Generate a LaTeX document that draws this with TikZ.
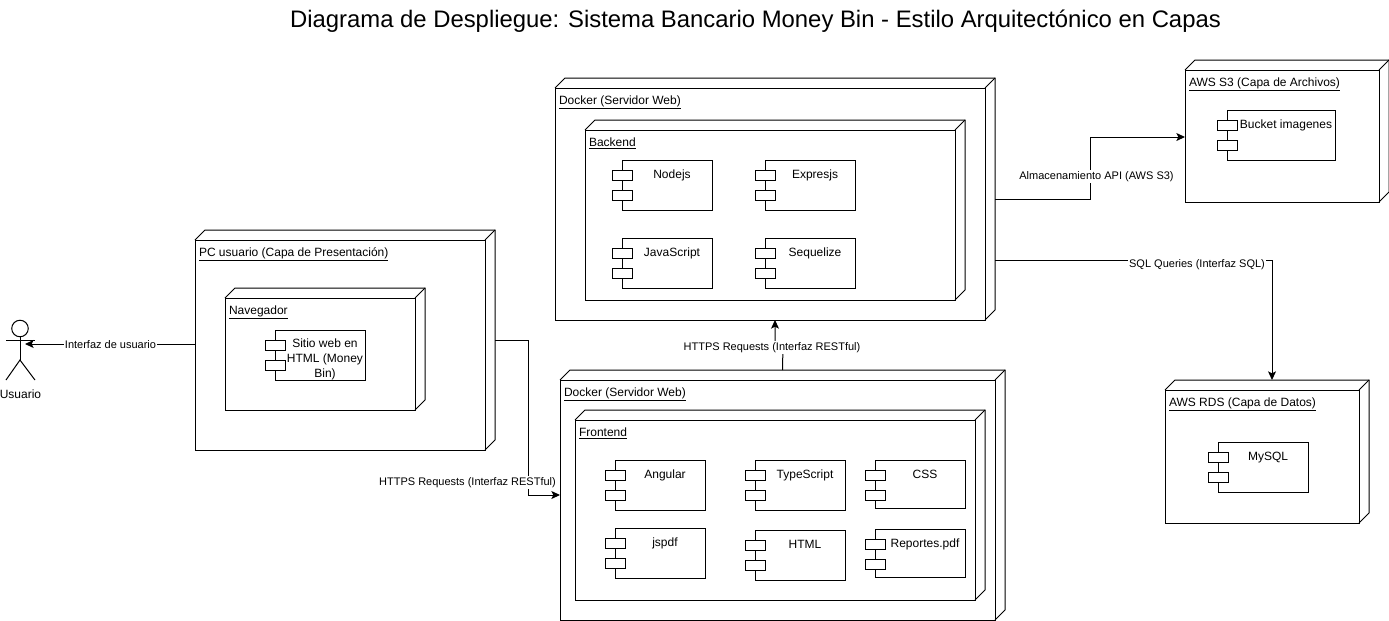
\documentclass[tikz,border=0pt]{standalone}
\usepackage{fontspec}
\setmainfont{Liberation Sans}
\usetikzlibrary{positioning, arrows.meta, calc}

\begin{document}
\begin{tikzpicture}[x=0.75pt, y=-0.75pt, line width=0.75pt, every node/.style={font=\fontsize{9}{10.9}\selectfont}]
  \tikzset{
    deploybox/.style={anchor=north west, inner sep=0pt, outer sep=0pt},
    boxcaption/.style={anchor=base west, inner sep=0pt},
    compbox/.style={draw, anchor=north west, inner sep=0pt, outer sep=0pt},
    comptext/.style={anchor=base, inner sep=0pt, align=center},
    comptab/.style={draw, fill=white},
    flow/.style={-{Stealth[length=6.5pt, width=6pt, inset=1.5pt]}},
    flowtext/.style={fill=white, inner sep=1pt, font=\fontsize{8.25}{10}\selectfont},
  }
  \useasboundingbox (0,0) rectangle (1389,621);

  \node[inner sep=0pt, font=\fontsize{17.9}{20}\selectfont] (title) at (755.5,21.5)
    {Diagrama de Despliegue: Sistema Bancario Money Bin - Estilo Arquitectónico en Capas};

  %% ===== Deployment boxes: front face, top and side =====
  \foreach \n/\x/\y/\w/\h/\t in {
      pc/195/230/300/220/{PC usuario (Capa de Presentación)},
      navegador/225/288/200/122/{Navegador},
      dockerback/555/78/440/242/{Docker (Servidor Web)},
      backend/585/120/380/180/{Backend},
      dockerfront/560/370/445/250/{Docker (Servidor Web)},
      frontend/575/410/410/190/{Frontend},
      awss/1185/60/204/142/{AWS S3 (Capa de Archivos)},
      awsrds/1165/380/204/143/{AWS RDS (Capa de Datos)}} {
    \node[deploybox, minimum width=\w*0.75pt, minimum height=\h*0.75pt] (\n) at (\x,\y) {};
    \draw (\n.south west) rectangle ($(\n.north east)+(-10,10)$);
    \draw ($(\n.north west)+(0,10)$) -- ($(\n.north west)+(10,0)$) -- (\n.north east)
      -- ($(\n.south east)+(0,-10)$) -- ($(\n.south east)+(-10,0)$);
    \draw ($(\n.north east)+(-10,10)$) -- (\n.north east);
    \node[boxcaption] (\n-caption) at ($(\n.north west)+(3.5,26)$) {\underline{\t}};
  }

  %% ===== Components: body, two tabs, text =====
  \foreach \n/\x/\y/\w/\h/\b/\t in {
      sitioweb/275/330/90/50/47/{Sitio web en\\HTML (Money\\Bin)},
      nodejs/622/160/90/50/18/{Nodejs},
      expresjs/765/160/90/50/18/{Expresjs},
      javascript/622/238/90/50/18/{JavaScript},
      sequelize/765/238/90/50/18/{Sequelize},
      angular/615/460/90/50/18/{Angular},
      typescript/755/460/90/50/18/{TypeScript},
      css/875/460/90/48/18/{CSS},
      jspdf/615/528/90/50/18/{jspdf},
      html/755/530/90/50/18/{HTML},
      reportes/875/529/90/48/18/{Reportes.pdf},
      bucket/1227/110/108/50/18/{Bucket imagenes},
      mysql/1218/442/90/50/18/{MySQL}} {
    \node[compbox, minimum width=\w*0.75pt, minimum height=\h*0.75pt] (\n) at (\x,\y) {};
    \draw[comptab] ($(\n.north west)+(-10,10)$) rectangle +(20,10);
    \draw[comptab] ($(\n.north west)+(-10,30)$) rectangle +(20,10);
    \node[comptext] (\n-text) at ($(\n.north)+(5,\b)$) {\t};
  }

  %% ===== Actor =====
  \node[draw, circle, inner sep=0pt, minimum size=12.4pt] (userhead) at (20,328.5) {};
  \coordinate (userhip) at (20,360);
  \coordinate (userhand) at (25,344);
  \draw (userhead.south) -- (userhip);
  \draw (6,340) -- (35,340);
  \draw (6,380) -- (userhip) -- (35,380);
  \node[inner sep=0pt] (username) at (20.5,394) {Usuario};

  %% ===== Connectors =====
  \coordinate (s3port) at (1185,137);
  \coordinate (sqlbend) at (1272,260);
  \draw[flow] (pc.west |- userhand) -- (userhand);
  \draw[flow] (pc.east) -- (528,340) -- (528,495) -- (dockerfront.west);
  \draw[flow] (dockerfront.north) -- (783,345) -- (775,345) -- (dockerback.south);
  \draw[flow] (dockerback.east) -- (1090.5,199) -- (1090.5,137) -- (s3port);
  \draw[flow] (dockerback.east |- sqlbend) -- (sqlbend) -- (awsrds.north -| sqlbend);

  \node[flowtext] (usertext) at (110.5,345) {Interfaz de usuario};
  \node[flowtext] (httpstext) at (467.5,482.5) {HTTPS Requests (Interfaz RESTful)};
  \node[flowtext] (restfultext) at (772,347.5) {HTTPS Requests (Interfaz RESTful)};
  \node[flowtext] (s3text) at (1096.5,176.5) {Almacenamiento API (AWS S3)};
  \node[flowtext] (sqltext) at (1197,264.5) {SQL Queries (Interfaz SQL)};
\end{tikzpicture}
\end{document}
